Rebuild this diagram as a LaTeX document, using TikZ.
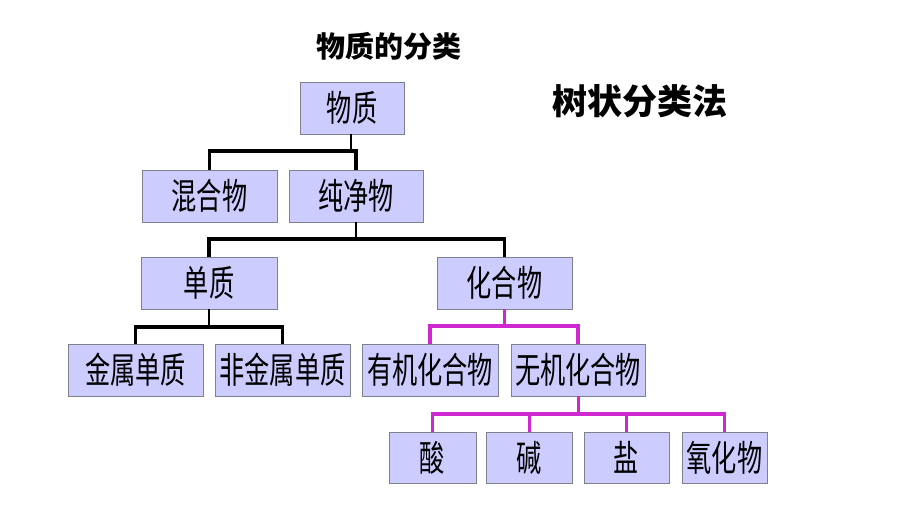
\documentclass[tikz,border=0pt]{standalone}
\usepackage{fontspec}
\newfontfamily\cjk[FakeStretch=0.7]{Noto Sans CJK SC}
\newfontfamily\cjkt{Noto Sans CJK SC}
\definecolor{boxfill}{RGB}{204,204,255}
\definecolor{boxline}{RGB}{128,128,140}
\definecolor{mag}{RGB}{208,40,208}
\tikzset{
  cat/.style={draw=boxline, line width=0.8pt, fill=boxfill, inner sep=0pt,
    minimum height=52pt, minimum width=135pt, font=\cjk\fontsize{36}{36}\selectfont},
  small/.style={cat, minimum width=86pt, minimum height=51pt},
  blackbar/.style={draw=black, line width=3.6pt},
  blackstub/.style={draw=black, line width=2.4pt},
  magbar/.style={draw=mag, line width=3.4pt},
  magstub/.style={draw=mag, line width=3pt}
}
\begin{document}
\begin{tikzpicture}[x=1pt,y=-1pt]
\useasboundingbox (0,0) rectangle (900,521);
\fill[white] (0,0) rectangle (900,521);

\node[font=\cjkt\bfseries\fontsize{29}{29}\selectfont] (title) at (389,46) {物质的分类};
\node[font=\cjkt\bfseries\fontsize{35}{35}\selectfont] (method) at (640,101) {树状分类法};

\node[cat, minimum width=104pt] (wz) at (352,108) {物质};
\node[cat] (hh) at (209.5,196) {混合物};
\node[cat, minimum width=134pt] (cj) at (356,196) {纯净物};
\node[cat, minimum width=136pt] (dz) at (209,283) {单质};
\node[cat] (hhw) at (504.5,283) {化合物};
\node[cat] (js) at (135.5,370) {金属单质};
\node[cat] (fjs) at (282.5,370) {非金属单质};
\node[cat, minimum width=136pt] (yj) at (430,370) {有机化合物};
\node[cat, minimum width=134pt] (wj) at (578,370) {无机化合物};
\node[small, minimum width=87pt] (suan) at (432.5,457.5) {酸};
\node[small] (jian) at (529,457.5) {碱};
\node[small, minimum width=85pt] (yan) at (626.5,457.5) {盐};
\node[small, minimum width=85pt] (yhw) at (724.5,457.5) {氧化物};

% level 1
\coordinate (b1) at (351,151);
\draw[blackstub] ([xshift=-1pt]wz.south) -- (b1);
\draw[blackbar] (hh.north) |- (b1) -| (cj.north);
% level 2
\coordinate (b2) at (356,239);
\draw[blackstub] (cj.south) -- (b2);
\draw[blackbar] (dz.north) |- (b2) -| (hhw.north);
% level 3 left
\coordinate (b3) at (209,327);
\draw[blackstub] (dz.south) -- (b3);
\draw[blackbar] (js.north) |- (b3) -| (fjs.north);
% level 3 right
\coordinate (b4) at (504.5,326);
\draw[magstub] (hhw.south) -- (b4);
\draw[magbar] (yj.north) |- (b4) -| (wj.north);
% level 4
\coordinate (b5) at (578,414);
\draw[magstub] (wj.south) -- (b5);
\draw[magbar] (suan.north) |- (b5) -| (yhw.north);
\draw[magstub] (jian.north) -- (jian.north |- b5);
\draw[magstub] (yan.north) -- (yan.north |- b5);
\end{tikzpicture}
\end{document}
